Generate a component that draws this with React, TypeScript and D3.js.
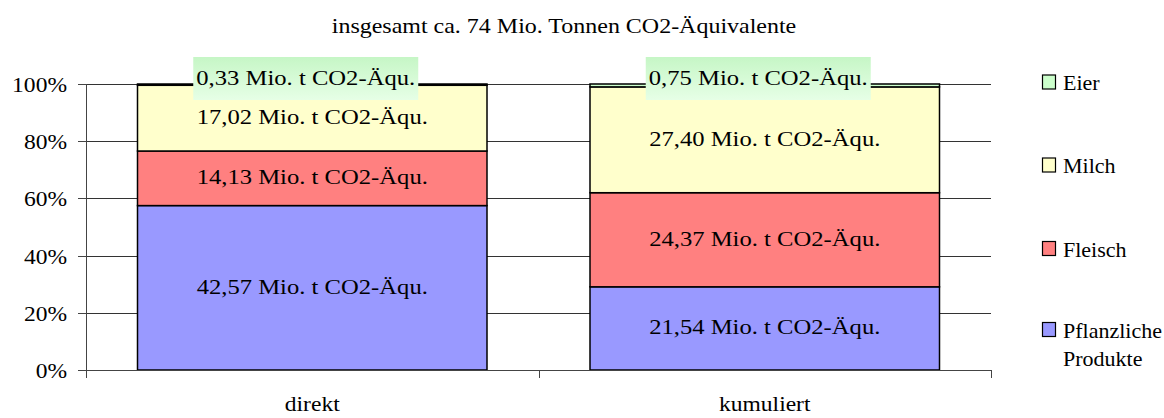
import React from "react";
import * as d3 from "d3";

// categories and series (Mio. t CO2-Äquivalente)
const categories = ["direkt", "kumuliert"];
const seriesNames = ["Pflanzliche Produkte", "Fleisch", "Milch", "Eier"];
const pflanzlich = [42.57, 21.54];
const fleisch = [14.13, 24.37];
const milch = [17.02, 27.4];
const eier = [0.33, 0.75];
const yTicks = [0, 0.2, 0.4, 0.6, 0.8, 1];
const colors = ["#9999ff", "#ff8080", "#ffffcc", "#ccffcc"];
const legendLines = [["Pflanzliche", "Produkte"], ["Fleisch"], ["Milch"], ["Eier"]];
const legendY = [329.5, 248.5, 165, 82];

const width = 1164;
const height = 418;
const margin = { top: 84, bottom: 48, left: 86, right: 173 };
const font = "Liberation Serif";
const fs = 22;

const fmt = (v: number) => v.toFixed(2).replace(".", ",") + " Mio. t CO2-Äqu.";

// text with a slight horizontal stretch, like the scanned original
const T = ({ x, y, sx = 1, children, ...rest }: any) => (
  <text {...rest} transform={`translate(${x},${y}) scale(${sx},1)`} style={{ fontFamily: font }} fill="#000" fontSize={fs}>
    {children}
  </text>
);

export default function App() {
  const x = d3
    .scaleBand()
    .domain(categories)
    .range([margin.left, width - margin.right])
    .paddingInner(0)
    .paddingOuter(0);
  const barPad = 51.5;
  const barW = x.bandwidth() - 2 * barPad;
  const y = d3.scaleLinear().domain([0, 1]).range([height - margin.bottom, margin.top]);

  const rows = categories.map((c, i) => {
    const vals = [pflanzlich[i], fleisch[i], milch[i], eier[i]];
    const total = d3.sum(vals);
    return { c, vals, total };
  });

  const stacked = rows.map((r) => {
    let acc = 0;
    return r.vals.map((v, k) => {
      const y0 = acc / r.total;
      acc += v;
      const y1 = acc / r.total;
      return { k, v, y0, y1 };
    });
  });

  return (
    <svg width={width} height={height} style={{ display: "block", position: "absolute", left: 0, top: 0 }}>
      <defs>
        <linearGradient id="lblbg" x1="0" y1="0" x2="0" y2="1">
          <stop offset="0" stopColor="#c6f6c6" />
          <stop offset="1" stopColor="#e6ffe6" />
        </linearGradient>
      </defs>
      <rect width={width} height={height} fill="#fff" />
      <T x={564} y={33} sx={1.09} textAnchor="middle">
        insgesamt ca. 74 Mio. Tonnen CO2-Äquivalente
      </T>

      {/* gridlines */}
      {yTicks.slice(1).map((t) => (
        <line key={t} x1={margin.left} x2={width - margin.right} y1={Math.round(y(t)) + 0.5} y2={Math.round(y(t)) + 0.5} stroke="#333" strokeWidth={1} />
      ))}

      {/* bars */}
      {stacked.map((segs, i) => {
        const bx = (x(categories[i]) as number) + barPad;
        return (
          <g key={i}>
            {segs.map((s) => (
              <rect key={s.k} x={bx} y={y(s.y1)} width={barW} height={y(s.y0) - y(s.y1)} fill={colors[s.k]} stroke="#000" strokeWidth={1.5} />
            ))}
          </g>
        );
      })}

      {/* axes */}
      <line x1={margin.left + 0.5} x2={margin.left + 0.5} y1={y(1)} y2={y(0) + 8} stroke="#444" />
      <line x1={margin.left} x2={width - margin.right} y1={Math.round(y(0)) + 0.5} y2={Math.round(y(0)) + 0.5} stroke="#444" />
      {yTicks.map((t) => (
        <g key={t}>
          <line x1={margin.left - 8} x2={margin.left} y1={Math.round(y(t)) + 0.5} y2={Math.round(y(t)) + 0.5} stroke="#444" />
          <T x={67} y={y(t) + 8} sx={1.07} textAnchor="end">
            {d3.format(".0%")(t)}
          </T>
        </g>
      ))}
      {[...categories.map((c) => x(c) as number), width - margin.right].map((px, i) => (
        <line key={i} x1={Math.round(px) + 0.5} x2={Math.round(px) + 0.5} y1={y(0)} y2={y(0) + 8} stroke="#444" />
      ))}
      {categories.map((c) => (
        <T key={c} x={(x(c) as number) + x.bandwidth() / 2} y={411} sx={1.07} textAnchor="middle">
          {c}
        </T>
      ))}

      {/* segment labels */}
      {stacked.map((segs, i) => {
        const cx = (x(categories[i]) as number) + x.bandwidth() / 2;
        return segs.map((s) => {
          if (s.k === 3) {
            return (
              <g key={s.k}>
                <rect x={cx - 119} y={57} width={225} height={43} fill="url(#lblbg)" />
                <T x={cx - 6.5} y={85} sx={1.12} textAnchor="middle">
                  {fmt(s.v)}
                </T>
              </g>
            );
          }
          return (
            <T key={s.k} x={cx} y={(y(s.y0) + y(s.y1)) / 2 + 6} sx={1.12} textAnchor="middle">
              {fmt(s.v)}
            </T>
          );
        });
      })}

      {/* legend */}
      {seriesNames.map((n, k) => (
        <g key={n}>
          <rect x={1042.5} y={legendY[k] - 7} width={13} height={14} fill={colors[k]} stroke="#000" strokeWidth={1.2} />
          {legendLines[k].map((ln, j) => (
            <T key={j} x={1063} y={legendY[k] + 8 + j * 28}>
              {ln}
            </T>
          ))}
        </g>
      ))}
    </svg>
  );
}
